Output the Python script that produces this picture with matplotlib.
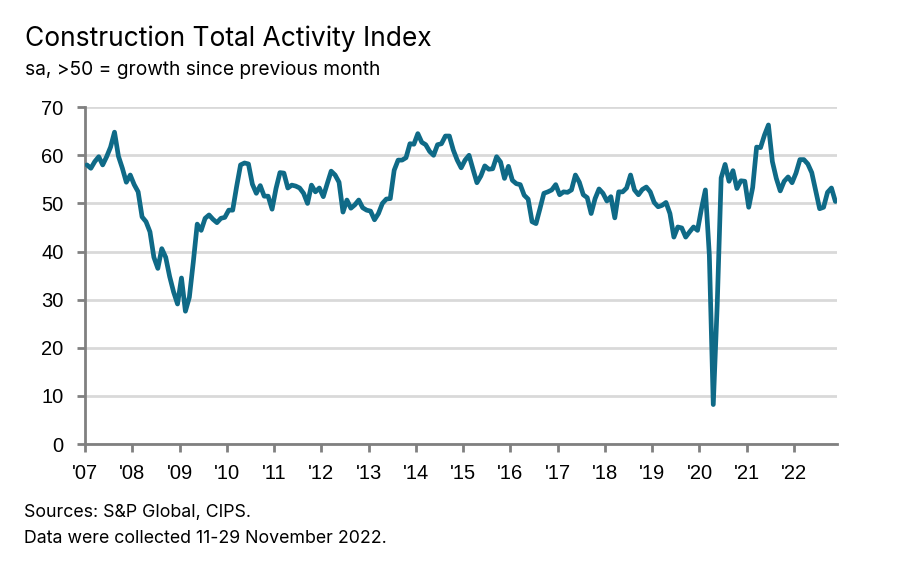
import numpy as np
import matplotlib
matplotlib.use("Agg")
import matplotlib.pyplot as plt

# Monthly index values, Jan 2007 - Nov 2022
y2007 = [58.0, 57.3, 58.7, 59.7, 58.0, 59.7, 61.7, 64.8, 59.8, 57.3, 54.4, 55.9]
y2008 = [53.9, 52.4, 47.2, 46.2, 44.1, 38.8, 36.5, 40.6, 38.8, 34.8, 31.6, 29.1]
y2009 = [34.5, 27.6, 30.5, 37.8, 45.7, 44.4, 46.9, 47.6, 46.7, 46.0, 46.9, 47.1]
y2010 = [48.6, 48.6, 53.5, 58.0, 58.4, 58.2, 54.0, 52.1, 53.7, 51.5, 51.5, 48.8]
y2011 = [53.1, 56.4, 56.3, 53.2, 53.8, 53.6, 53.2, 52.1, 50.0, 53.8, 52.4, 53.2]
y2012 = [51.4, 54.1, 56.7, 55.9, 54.4, 48.2, 50.7, 49.0, 49.7, 50.7, 49.1, 48.6]
y2013 = [48.4, 46.6, 47.9, 50.0, 50.9, 51.0, 56.9, 59.0, 59.0, 59.5, 62.4, 62.3]
y2014 = [64.5, 62.7, 62.2, 60.8, 60.0, 62.2, 62.4, 64.0, 64.0, 61.1, 59.0, 57.4]
y2015 = [59.0, 60.0, 57.1, 54.3, 55.7, 57.8, 57.1, 57.2, 59.7, 58.6, 55.2, 57.7]
y2016 = [54.8, 54.1, 53.9, 51.7, 50.9, 46.2, 45.8, 48.9, 52.1, 52.4, 52.8, 53.9]
y2017 = [51.8, 52.4, 52.3, 52.8, 55.9, 54.4, 51.8, 51.2, 47.9, 51.0, 53.0, 52.1]
y2018 = [50.5, 51.4, 47.0, 52.4, 52.4, 53.2, 55.9, 52.8, 51.8, 52.9, 53.4, 52.4]
y2019 = [50.2, 49.3, 49.6, 50.2, 47.9, 43.0, 45.1, 44.9, 43.0, 44.1, 45.1, 44.4]
y2020 = [48.9, 52.8, 39.3, 8.2, 28.9, 55.3, 58.1, 54.6, 56.8, 53.1, 54.7, 54.6]
y2021 = [49.2, 53.3, 61.7, 61.6, 64.2, 66.3, 58.7, 55.2, 52.6, 54.6, 55.5, 54.3]
y2022 = [56.3, 59.1, 59.1, 58.2, 56.4, 52.6, 48.9, 49.2, 52.3, 53.2, 50.4]

years = list(range(2007, 2023))
year_labels = ["'%02d" % (y % 100) for y in years]
y_ticks = [0, 10, 20, 30, 40, 50, 60, 70]

values = (y2007 + y2008 + y2009 + y2010 + y2011 + y2012 + y2013 + y2014
          + y2015 + y2016 + y2017 + y2018 + y2019 + y2020 + y2021 + y2022)
# each month drawn at its middle
x = 2007 + (np.arange(len(values)) + 0.5) / 12

line_color = '#0F6A87'
axis_color = '#808080'
grid_color = '#D9D9D9'

fig = plt.figure(figsize=(9, 5.7), dpi=100)
ax = fig.add_axes([0.0944, 0.221, 0.836, 0.591])

ax.plot(x, values, color=line_color, linewidth=3.4, solid_joinstyle='round',
        solid_capstyle='round', zorder=3)

ax.set_xlim(2007, 2007 + len(values) / 12)
ax.set_ylim(0, 70)
ax.set_yticks(y_ticks)
ax.set_xticks(years)
ax.set_xticklabels(year_labels)

ax.grid(axis='y', color=grid_color, linewidth=2, zorder=0)
ax.set_axisbelow(True)
for side in ['top', 'right']:
    ax.spines[side].set_visible(False)
for side in ['left', 'bottom']:
    ax.spines[side].set_color(axis_color)
    ax.spines[side].set_linewidth(2)

ax.tick_params(axis='both', colors=axis_color, width=2, length=5.5,
               labelcolor='black', labelsize=14.5)
ax.tick_params(axis='y', pad=10)
ax.tick_params(axis='x', pad=9)
for lab in ax.get_xticklabels() + ax.get_yticklabels():
    lab.set_family('Liberation Sans')

fig.text(0.028, 0.92, 'Construction Total Activity Index', fontsize=19,
         family='Inter', va='baseline')
fig.text(0.028, 0.868, 'sa, >50 = growth since previous month', fontsize=13.8,
         family='Inter', va='baseline')
fig.text(0.027, 0.0935, 'Sources: S&P Global, CIPS.', fontsize=12.8,
         family='Inter', va='baseline')
fig.text(0.027, 0.048, 'Data were collected 11-29 November 2022.', fontsize=12.8,
         family='Inter', va='baseline')

fig.savefig('out.png', dpi=100)
